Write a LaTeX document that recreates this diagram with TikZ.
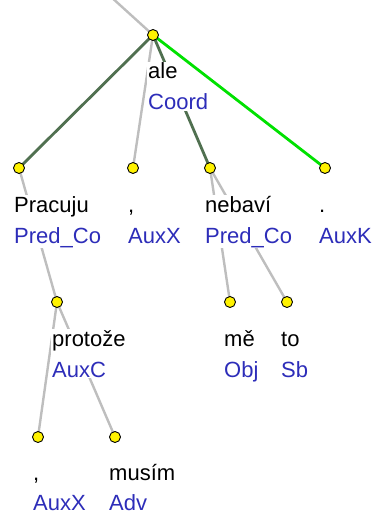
\documentclass[tikz,border=0pt]{standalone}
\usepackage{fontspec}
\setmainfont{Liberation Sans}
\usetikzlibrary{backgrounds}
\definecolor{tagblue}{RGB}{45,45,185}
\definecolor{coordgreen}{RGB}{80,112,80}
\definecolor{brightgreen}{RGB}{0,225,0}
\definecolor{edgegray}{RGB}{190,190,190}
\begin{document}
\begin{tikzpicture}[x=1pt,y=-1pt,
  tnode/.style={circle,draw=black,fill=yellow,line width=0.9pt,minimum size=11pt,inner sep=0pt},
  word/.style={anchor=base west,fill=white,inner sep=1pt,font=\fontsize{22}{26}\selectfont,text=black,text depth=14pt},
  tag/.style={anchor=base west,fill=white,inner sep=1pt,font=\fontsize{22}{26}\selectfont,text=tagblue,text height=17pt},
  gedge/.style={draw=edgegray,line width=2.4pt},
  cedge/.style={draw=coordgreen,line width=2.8pt},
  bedge/.style={draw=brightgreen,line width=2.8pt}]
\useasboundingbox (0,0) rectangle (377,516);
\clip (0,0) rectangle (377,516);
% tree nodes
\node[tnode] (ale) at (153,35) {};
\node[tnode] (prac) at (19,168) {};
\node[tnode] (c1) at (133,168) {};
\node[tnode] (neb) at (210,168) {};
\node[tnode] (dot) at (325,168) {};
\node[tnode] (prot) at (57,302) {};
\node[tnode] (me) at (230,302) {};
\node[tnode] (to) at (287,302) {};
\node[tnode] (c2) at (38,437) {};
\node[tnode] (mus) at (115,437) {};
\coordinate (up) at (110,-4);
% labels
\node[word] (aleW) at (147,79) {ale};
\node[tag] (aleT) at (147,110) {Coord};
\node[word] (pracW) at (13,212) {Pracuju};
\node[tag] (pracT) at (13,243) {Pred\_Co};
\node[word] (c1W) at (127,212) {,};
\node[tag] (c1T) at (127,243) {AuxX};
\node[word] (nebW) at (204,212) {nebaví};
\node[tag] (nebT) at (204,243) {Pred\_Co};
\node[word] (dotW) at (318,212) {.};
\node[tag] (dotT) at (318,243) {AuxK};
\node[word] (protW) at (51,346) {protože};
\node[tag] (protT) at (51,377) {AuxC};
\node[word] (meW) at (223,346) {mě};
\node[tag] (meT) at (223,377) {Obj};
\node[word] (toW) at (280,346) {to};
\node[tag] (toT) at (280,377) {Sb};
\node[word] (c2W) at (32,480) {,};
\node[tag] (c2T) at (32,510) {AuxX};
\node[word] (musW) at (108,480) {musím};
\node[tag] (musT) at (108,510) {Adv};
% edges
\begin{pgfonlayer}{background}
\draw[gedge] (ale.center) -- (up);
\draw[cedge] (ale.center) -- (prac.center);
\draw[gedge] (ale.center) -- (c1.center);
\draw[cedge] (ale.center) -- (neb.center);
\draw[bedge] (ale.center) -- (dot.center);
\draw[gedge] (prac.center) -- (prot.center);
\draw[gedge] (neb.center) -- (me.center);
\draw[gedge] (neb.center) -- (to.center);
\draw[gedge] (prot.center) -- (c2.center);
\draw[gedge] (prot.center) -- (mus.center);
\end{pgfonlayer}
\end{tikzpicture}
\end{document}
